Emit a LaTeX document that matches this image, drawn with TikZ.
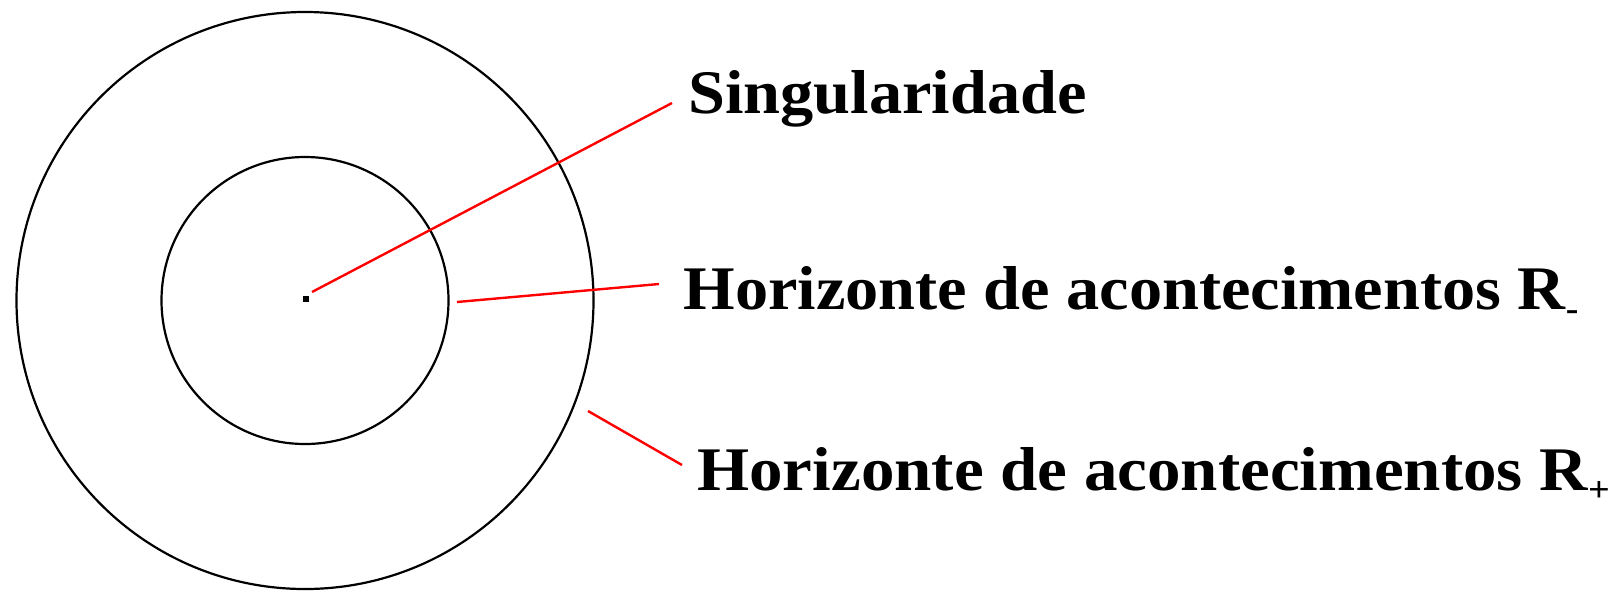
\documentclass[tikz,border=0pt]{standalone}
\usepackage{fontspec}
\newfontfamily\lblfont{Liberation Serif}[FakeStretch=1.07]
\newfontfamily\lblwidefont{Liberation Serif}[FakeStretch=1.08]
\newcommand\lowsub[1]{\raisebox{-5.8pt}{\fontsize{17.7}{18}\selectfont #1}}

\begin{document}
\begin{tikzpicture}[
  x=0.5pt, y=-0.5pt,
  ring/.style={
    circle, draw, line width=1.1pt, inner sep=0pt},
  lbl/.style={
    anchor=base west, inner sep=0pt,
    font=\lblfont\bfseries\fontsize{31}{34}\selectfont},
  lblwide/.style={
    lbl, font=\lblwidefont\bfseries\fontsize{31}{34}\selectfont},
  lead/.style={draw=red, line width=1.2pt},
]
  \useasboundingbox (0,0) rectangle (1615,590);
  \coordinate (ctr) at (305,300.5);
  \node[ring, minimum size=288.5pt] (outer) at (ctr) {};
  \node[ring, minimum size=143.5pt] (inner) at (ctr) {};
  \node[fill, inner sep=0pt, minimum size=3pt] (sing0) at (306,299) {};

  \node[lbl]     (sing)  at (688,113) {Singularidade};
  \node[lbl]     (hmin)  at (683,309) {Horizonte de acontecimentos R\lowsub{-}};
  \node[lblwide] (hplus) at (697,490) {Horizonte de acontecimentos R\lowsub{+}};

  % ends of the leader lines
  \coordinate (s0) at (312,292);  \coordinate (s1) at (672,103);
  \coordinate (m0) at (457,302);  \coordinate (m1) at (659,284);
  \coordinate (p0) at (588,411);  \coordinate (p1) at (682,465);

  \draw[lead] (s0) -- (s1);
  \draw[lead] (m0) -- (m1);
  \draw[lead] (p0) -- (p1);
\end{tikzpicture}
\end{document}
